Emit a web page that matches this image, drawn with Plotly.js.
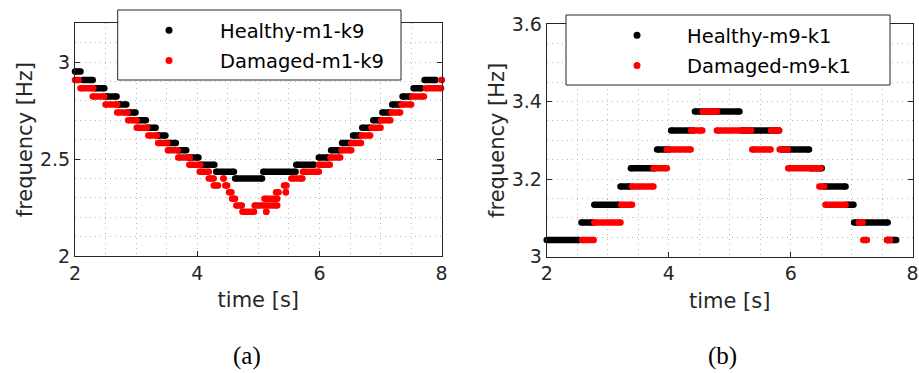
<!DOCTYPE html>
<html>
<head>
<meta charset="utf-8">
<script src="https://cdn.plot.ly/plotly-3.0.1.min.js"></script>
<style>html,body{margin:0;padding:0;background:#fff;}#chart{width:919px;height:373px;}</style>
</head>
<body>
<div id="chart"></div>
<script>
// ---------- data: panel (a) ----------
const levelsA = [2.228, 2.261, 2.295, 2.329, 2.364, 2.399, 2.435, 2.471, 2.508, 2.545,
                 2.583, 2.622, 2.661, 2.700, 2.740, 2.781, 2.823, 2.865, 2.908, 2.951];
const healthyA_level = [19,18,17,16,15,14,13,12,11,10,9,8,7,6,5,6,7,8,9,10,11,12,13,14,15,16,17,18];
const healthyA_start = [2.00,2.13,2.33,2.51,2.71,2.88,3.03,3.19,3.36,3.52,3.69,3.86,4.06,4.31,4.62,5.08,5.62,5.99,6.19,6.37,6.55,6.70,6.88,7.03,7.19,7.36,7.54,7.72];
const healthyA_end   = [2.09,2.29,2.48,2.68,2.84,2.99,3.16,3.32,3.48,3.65,3.82,4.02,4.28,4.60,5.06,5.61,5.91,6.14,6.33,6.50,6.66,6.83,6.99,7.15,7.31,7.48,7.67,7.90];
const damagedA_level = [18,17,16,15,14,13,12,11,10,9,8,7,6,5,4,5,4,3,2,1,0,1,2,0,3,4,3,5,6,7,8,9,10,11,12,13,14,15,16,17,18];
const damagedA_start = [2.00,2.09,2.29,2.50,2.69,2.87,3.01,3.20,3.36,3.52,3.69,3.87,4.04,4.19,4.27,4.43,4.46,4.52,4.57,4.64,4.74,4.94,5.10,5.13,5.29,5.42,5.45,5.54,5.73,5.99,6.18,6.36,6.52,6.69,6.85,7.01,7.18,7.34,7.52,7.74,8.00];
const damagedA_end   = [2.06,2.30,2.48,2.69,2.86,3.01,3.18,3.34,3.51,3.68,3.88,4.05,4.19,4.27,4.34,4.43,4.49,4.56,4.62,4.73,4.93,5.31,5.31,5.13,5.33,5.46,5.45,5.72,5.99,6.17,6.34,6.52,6.68,6.83,7.00,7.16,7.32,7.50,7.71,7.99,8.00];

// ---------- data: panel (b) ----------
const levelsB = [3.043, 3.088, 3.134, 3.181, 3.228, 3.276, 3.325, 3.374];
const healthyB_level = [0,1,2,3,4,5,6,7,6,5,4,3,2,1,0];
const healthyB_start = [2.00,2.57,2.78,3.21,3.38,3.81,4.04,4.43,5.20,5.86,6.33,6.55,6.93,7.04,7.58];
const healthyB_end   = [2.53,2.75,3.18,3.36,3.77,4.00,4.40,5.16,5.81,6.30,6.51,6.90,7.03,7.59,7.73];
const damagedB_level = [0,1,2,3,4,5,6,7,6,5,6,5,4,3,2,1,0,0];
const damagedB_start = [2.58,2.78,3.22,3.40,3.75,3.97,4.37,4.56,4.79,5.37,5.68,5.82,5.96,6.47,6.57,7.12,7.19,7.58];
const damagedB_end   = [2.77,3.21,3.40,3.75,3.97,4.36,4.55,4.79,5.35,5.67,5.81,5.95,6.49,6.55,6.90,7.18,7.25,7.63];

const namesA = ['Healthy-m1-k9', 'Damaged-m1-k9'];
const namesB = ['Healthy-m9-k1', 'Damaged-m9-k1'];
const xTicks = [2, 4, 6, 8];
const yTicksA = [2, 2.5, 3];
const yTicksB = [3, 3.2, 3.4, 3.6];

// ---------- styling ----------
const BLACK = '#000000', RED = '#ff0000';
const AXC = '#262626';
const GRID = '#b8b8b8';
const GDASH = '1px,4px';
const FONT = 'DejaVu Sans';
const DOT = 6.5;
const W = 919, H = 373;

function runs(starts, ends, lvl, levels, color, xa, ya) {
  const x = [], y = [];
  for (let i = 0; i < starts.length; i++) {
    x.push(starts[i], ends[i], null);
    y.push(levels[lvl[i]], levels[lvl[i]], null);
  }
  return {type: 'scatter', mode: 'lines+markers', x: x, y: y, xaxis: xa, yaxis: ya,
    line: {color: color, width: DOT}, marker: {color: color, size: DOT},
    connectgaps: false, showlegend: false, cliponaxis: false, hoverinfo: 'skip'};
}
function legendEntry(name, color, xa, ya, lg, grp) {
  return {type: 'scatter', mode: 'markers', x: [null], y: [null], xaxis: xa, yaxis: ya,
    name: name, legend: lg, legendgroup: grp, marker: {color: color, size: 7}, showlegend: true};
}

const data = [
  runs(healthyA_start, healthyA_end, healthyA_level, levelsA, BLACK, 'x', 'y'),
  runs(damagedA_start, damagedA_end, damagedA_level, levelsA, RED, 'x', 'y'),
  runs(healthyB_start, healthyB_end, healthyB_level, levelsB, BLACK, 'x2', 'y2'),
  runs(damagedB_start, damagedB_end, damagedB_level, levelsB, RED, 'x2', 'y2'),
  legendEntry(namesA[0], BLACK, 'x', 'y', 'legend', 'a1'),
  legendEntry(namesA[1], RED, 'x', 'y', 'legend', 'a2'),
  legendEntry(namesB[0], BLACK, 'x2', 'y2', 'legend2', 'b1'),
  legendEntry(namesB[1], RED, 'x2', 'y2', 'legend2', 'b2')
];

function xAxis(domain, anchor) {
  return {domain: domain, anchor: anchor, range: [2, 8], tickvals: xTicks,
    ticks: 'inside', ticklen: 5, tickcolor: AXC, tickwidth: 1,
    showline: true, linecolor: AXC, linewidth: 1, mirror: 'ticks',
    showgrid: true, gridcolor: GRID, griddash: GDASH, gridwidth: 1,
    minor: {dtick: 0.5, showgrid: true, gridcolor: GRID, griddash: GDASH, gridwidth: 1},
    zeroline: false, automargin: false,
    tickfont: {family: FONT, size: 19, color: AXC},
    title: {text: 'time [s]', font: {family: FONT, size: 21, color: AXC}, standoff: 9}};
}
function yAxis(domain, anchor, range, ticks, minorStep) {
  return {domain: domain, anchor: anchor, range: range, tickvals: ticks,
    ticks: 'inside', ticklen: 5, tickcolor: AXC, tickwidth: 1,
    showline: true, linecolor: AXC, linewidth: 1, mirror: 'ticks',
    showgrid: true, gridcolor: GRID, griddash: GDASH, gridwidth: 1,
    minor: {dtick: minorStep, showgrid: true, gridcolor: GRID, griddash: GDASH, gridwidth: 1},
    zeroline: false, automargin: false,
    tickfont: {family: FONT, size: 19, color: AXC},
    title: {text: 'frequency [Hz]', font: {family: FONT, size: 21, color: AXC}, standoff: 1}};
}
function legendBox(xpx, ypx, iw) {
  return {x: xpx / W, y: 1 - ypx / H, xanchor: 'left', yanchor: 'top', xref: 'paper', yref: 'paper',
    bgcolor: 'rgba(0,0,0,0)', borderwidth: 0,
    font: {family: FONT, size: 19.5, color: '#000'},
    itemwidth: iw, traceorder: 'grouped', tracegroupgap: 2};
}
function boxShape(x0, x1, y0, y1) {
  return {type: 'rect', xref: 'paper', yref: 'paper', layer: 'above',
    x0: x0 / W, x1: x1 / W, y0: 1 - y1 / H, y1: 1 - y0 / H,
    fillcolor: '#ffffff', line: {color: AXC, width: 1}};
}
function caption(txt, xpx) {
  return {text: txt, x: xpx / W, y: 1 - 356 / H, xref: 'paper', yref: 'paper',
    showarrow: false, xanchor: 'center', yanchor: 'middle',
    font: {family: 'Liberation Serif', size: 25, color: '#000'}};
}

const layout = {
  width: W, height: H,
  margin: {l: 0, r: 0, t: 0, b: 0},
  paper_bgcolor: '#ffffff', plot_bgcolor: '#ffffff',
  showlegend: true,
  xaxis: xAxis([0.0816, 0.4806], 'y'),
  yaxis: yAxis([0.3137, 0.9375], 'x', [2, 3.2], yTicksA, 0.1),
  xaxis2: xAxis([0.5949, 0.9931], 'y2'),
  yaxis2: yAxis([0.3121, 0.9357], 'x2', [3, 3.6], yTicksB, 0.05),
  legend: legendBox(118, 11, 92),
  legend2: legendBox(587, 16, 90),
  shapes: [boxShape(117.7, 401, 10, 80), boxShape(566, 890, 15, 85)],
  annotations: [caption('(a)', 247), caption('(b)', 722)]
};

Plotly.newPlot('chart', data, layout, {staticPlot: true, displayModeBar: false});
</script>
</body>
</html>
